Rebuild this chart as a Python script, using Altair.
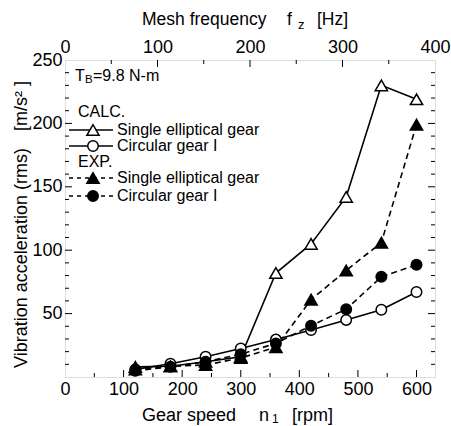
import altair as alt
import pandas as pd

FONT = "Liberation Sans"

# ---- data ----
n_rpm = [120, 180, 240, 300, 360, 420, 480, 540, 600]
calc_single = [8, 8.5, 12, 16, 82, 105, 142, 230, 219]
calc_circular = [6, 10.5, 16, 22.5, 29.5, 37, 45, 53, 67]
exp_single = [6, 8.5, 9.5, 15, 23.5, 61, 84, 106, 199]
exp_circular = [5, 8, 12, 18, 26.5, 40.5, 53.5, 79, 88.5]

x_ticks_major = [100, 200, 300, 400, 500, 600]
x_ticks_minor = [50, 150, 250, 350, 450, 550]
y_ticks_major = [50, 100, 150, 200]
y_ticks_minor = [10, 20, 30, 40, 60, 70, 80, 90, 110, 120, 130, 140, 160, 170, 180, 190, 210, 220, 230, 240]
hz_ticks_major = [100, 200, 300]
hz_ticks_minor = [50, 150, 250, 350]
hz_labels = [0, 100, 200, 300, 400]
rpm_labels = [0, 100, 200, 300, 400, 500, 600]
y_labels = [50, 100, 150, 200, 250]

W, H = 370, 317
RPM_MAX = 400 * 60 / 38

AX = dict(ticks=False, domain=False, grid=False, title=None, labelFlush=False, labelOverlap=False,
          labelFont=FONT, labelFontSize=18, labelColor="black")

xs = alt.Scale(domain=[0, RPM_MAX], nice=False, zero=False)
ys = alt.Scale(domain=[0, 250], nice=False, zero=False)
X = alt.X("rpm:Q", scale=xs, axis=alt.Axis(values=rpm_labels, labelPadding=3, **AX))
Y = alt.Y("val:Q", scale=ys, axis=alt.Axis(values=y_labels, labelPadding=3, **AX))

series = [
    (calc_single, None, "triangle-up", "white", 150),
    (calc_circular, None, "circle", "white", 110),
    (exp_single, [6, 4], "triangle-up", "black", 150),
    (exp_circular, [6, 4], "circle", "black", 110),
]

layers = []
for vals, dash, shape, fill, size in series:
    df = pd.DataFrame({"rpm": n_rpm, "val": vals})
    kw = dict(color="black", strokeWidth=1.6)
    if dash:
        kw["strokeDash"] = dash
    layers.append(alt.Chart(df).mark_line(**kw).encode(x=X, y=Y))
for vals, dash, shape, fill, size in series:
    df = pd.DataFrame({"rpm": n_rpm, "val": vals})
    layers.append(alt.Chart(df).mark_point(shape=shape, filled=True, fill=fill, stroke="black",
                                           strokeWidth=1.5, size=size, opacity=1).encode(x=X, y=Y))

# inward ticks
def xt(vals, ln):
    d = pd.DataFrame({"rpm": vals})
    return alt.Chart(d).mark_rule(color="black", strokeWidth=1).encode(x=X, y=alt.value(H), y2=alt.value(H - ln))

def yt(vals, x0, x1):
    d = pd.DataFrame({"val": vals})
    return alt.Chart(d).mark_rule(color="black", strokeWidth=1).encode(y=Y, x=alt.value(x0), x2=alt.value(x1))

layers += [xt(x_ticks_major, 7), xt(x_ticks_minor, 4),
           yt(y_ticks_major, 0, 7), yt(y_ticks_minor, 0, 4),
           yt(y_ticks_major, W, W - 7), yt(y_ticks_minor, W, W - 4)]
main = alt.layer(*layers)

HZ = alt.X("hz:Q", scale=alt.Scale(domain=[0, 400], nice=False, zero=False),
           axis=alt.Axis(orient="top", values=hz_labels, labelPadding=4, **AX))
top = alt.layer(
    alt.Chart(pd.DataFrame({"hz": hz_ticks_major})).mark_rule(color="black", strokeWidth=1).encode(
        x=HZ, y=alt.value(0), y2=alt.value(7)),
    alt.Chart(pd.DataFrame({"hz": hz_ticks_minor})).mark_rule(color="black", strokeWidth=1).encode(
        x=HZ, y=alt.value(0), y2=alt.value(4)),
)

def txt(s, x, y, size=18, align="left", angle=0):
    kw = dict(text=s, align=align, baseline="middle", fontSize=size, font=FONT, color="black")
    if angle:
        kw["angle"] = angle
    return alt.Chart(alt.Data(values=[{}])).mark_text(**kw).encode(x=alt.value(x), y=alt.value(y))

def leg_line(y, dash):
    kw = dict(color="black", strokeWidth=1.6)
    if dash:
        kw["strokeDash"] = dash
    return alt.Chart(alt.Data(values=[{}])).mark_rule(**kw).encode(
        x=alt.value(4), x2=alt.value(48), y=alt.value(y))

def leg_pt(y, shape, fill, size):
    return alt.Chart(alt.Data(values=[{}])).mark_point(shape=shape, filled=True, fill=fill, stroke="black",
                                                       strokeWidth=1.5, size=size, opacity=1).encode(
        x=alt.value(28), y=alt.value(y))

LF = 16
ann = [
    txt("Mesh frequency", 77, -40, 17.5),
    txt("f", 222, -40, 17.5),
    txt("z", 233, -35, 13),
    txt("[Hz]", 252, -40, 17.5),
    txt("Gear speed", 77, 356, 18),
    txt("n", 194, 356, 18),
    txt("1", 207, 359, 12),
    txt("[rpm]", 227, 356, 18),
    txt("Vibration acceleration (rms)", -43, 198, 18, "center", 270),
    txt("[m/s² ]", -43, 46, 18, "center", 270),
    txt("T", 10, 16, LF),
    txt("B", 20, 20, 11.5),
    txt("=9.8 N-m", 28, 16, LF),
    txt("CALC.", 13, 52, LF),
    txt("EXP.", 13, 102, LF),
    txt("Single elliptical gear", 52, 70, LF),
    txt("Circular gear I", 52, 86, LF),
    txt("Single elliptical gear", 52, 118, LF),
    txt("Circular gear I", 52, 136, LF),
]
legend = []
for yy, dash, shape, fill, size in [(70, None, "triangle-up", "white", 150),
                                    (86, None, "circle", "white", 110),
                                    (118, [4, 4], "triangle-up", "black", 150),
                                    (136, [4, 4], "circle", "black", 110)]:
    legend.append(leg_line(yy, dash))
    legend.append(leg_pt(yy, shape, fill, size))

chart = alt.layer(main, top, *legend, *ann).resolve_scale(x="independent").properties(
    width=W, height=H,
    autosize=alt.AutoSizeParams(type="none"),
    padding={"left": 65, "top": 60, "right": 16, "bottom": 49},
).configure_view(stroke="black", strokeWidth=1.5).configure(background="white")

chart.save("out.html", embed_options={"renderer": "svg", "actions": False})
